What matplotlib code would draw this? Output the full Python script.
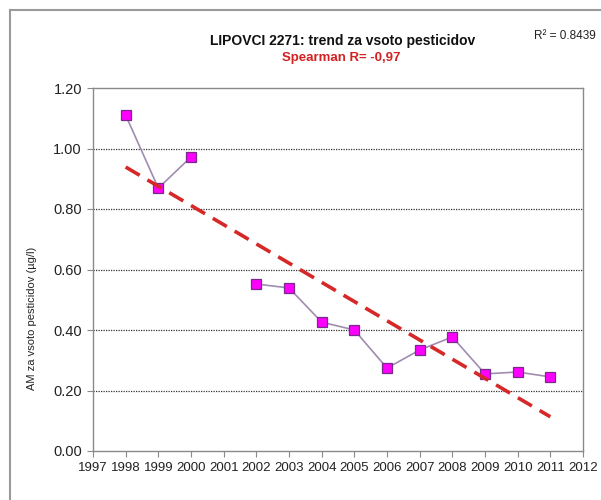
import numpy as np
import matplotlib
matplotlib.use("Agg")
import matplotlib.pyplot as plt
from matplotlib.lines import Line2D

years = [1998, 1999, 2000, 2001, 2002, 2003, 2004, 2005, 2006, 2007, 2008, 2009, 2010, 2011]
values = [1.11, 0.869, 0.972, np.nan, 0.552, 0.539, 0.426, 0.400, 0.274, 0.334, 0.377, 0.255, 0.261, 0.245]
xticks = list(range(1997, 2013))
yticks = [0.0, 0.2, 0.4, 0.6, 0.8, 1.0, 1.2]
title = "LIPOVCI 2271: trend za vsoto pesticidov"
subtitle = "Spearman R= -0,97"
r2_text = "R² = 0.8439"
ylabel = "AM za vsoto pesticidov (µg/l)"

plt.rcParams['font.family'] = ['Liberation Sans', 'DejaVu Sans']

fig = plt.figure(figsize=(6.01, 5.00), dpi=100)
ax = fig.add_axes([93/601, 49/500, 490/601, 363/500])

x = np.array(years, dtype=float)
y = np.array(values, dtype=float)
m = ~np.isnan(y)

ax.plot(x, y, color='#a08cb0', lw=1.2, zorder=3)
ax.plot(x, y, ls='none', marker='s', ms=7.5, mfc='#ff00ff', mec='#7a2a8a', mew=0.9, zorder=4)

coef = np.polyfit(x[m], y[m], 1)
xt = np.array([x[m].min(), x[m].max()])
ax.plot(xt, np.polyval(coef, xt), color='#d62828', lw=2.6, ls=(0, (4.5, 2.5)), zorder=5)

ax.set_xlim(1997, 2012)
ax.set_ylim(0, 1.2)
ax.set_xticks(xticks)
ax.set_xticklabels([str(t) for t in xticks], fontsize=9.5)
ax.set_yticks(yticks)
ax.set_yticklabels([f"{t:.2f}" for t in yticks], fontsize=10.5)
for t in yticks[1:-1]:
    ax.axhline(t, color='#333333', lw=0.9, ls=(0, (1, 1)), zorder=1)
for s in ax.spines.values():
    s.set_color('#8a8a8a')
    s.set_linewidth(1.0)
ax.tick_params(axis='both', direction='out', length=4, color='#8a8a8a', colors='#222222', pad=4)
ax.set_ylabel(ylabel, fontsize=8, color='#222222', labelpad=0)
ax.yaxis.set_label_coords(-0.115, 0.366)

fig.text(343/601, 1 - 41/500, title, ha='center', va='center', fontsize=10, fontweight='bold', color='#111111')
fig.text(341/601, 1 - 58/500, subtitle, ha='center', va='center', fontsize=9.5, fontweight='bold', color='#d42020')
fig.text(565/601, 1 - 36/500, r2_text, ha='center', va='center', fontsize=8.5, color='#222222')

# outer chart frame
fig.add_artist(Line2D([10/601, 10/601], [0, 1 - 10/500], transform=fig.transFigure, color='#9a9a9a', lw=1.5))
fig.add_artist(Line2D([10/601, 1], [1 - 10/500, 1 - 10/500], transform=fig.transFigure, color='#9a9a9a', lw=1.5))

fig.savefig("out.png", dpi=100)
